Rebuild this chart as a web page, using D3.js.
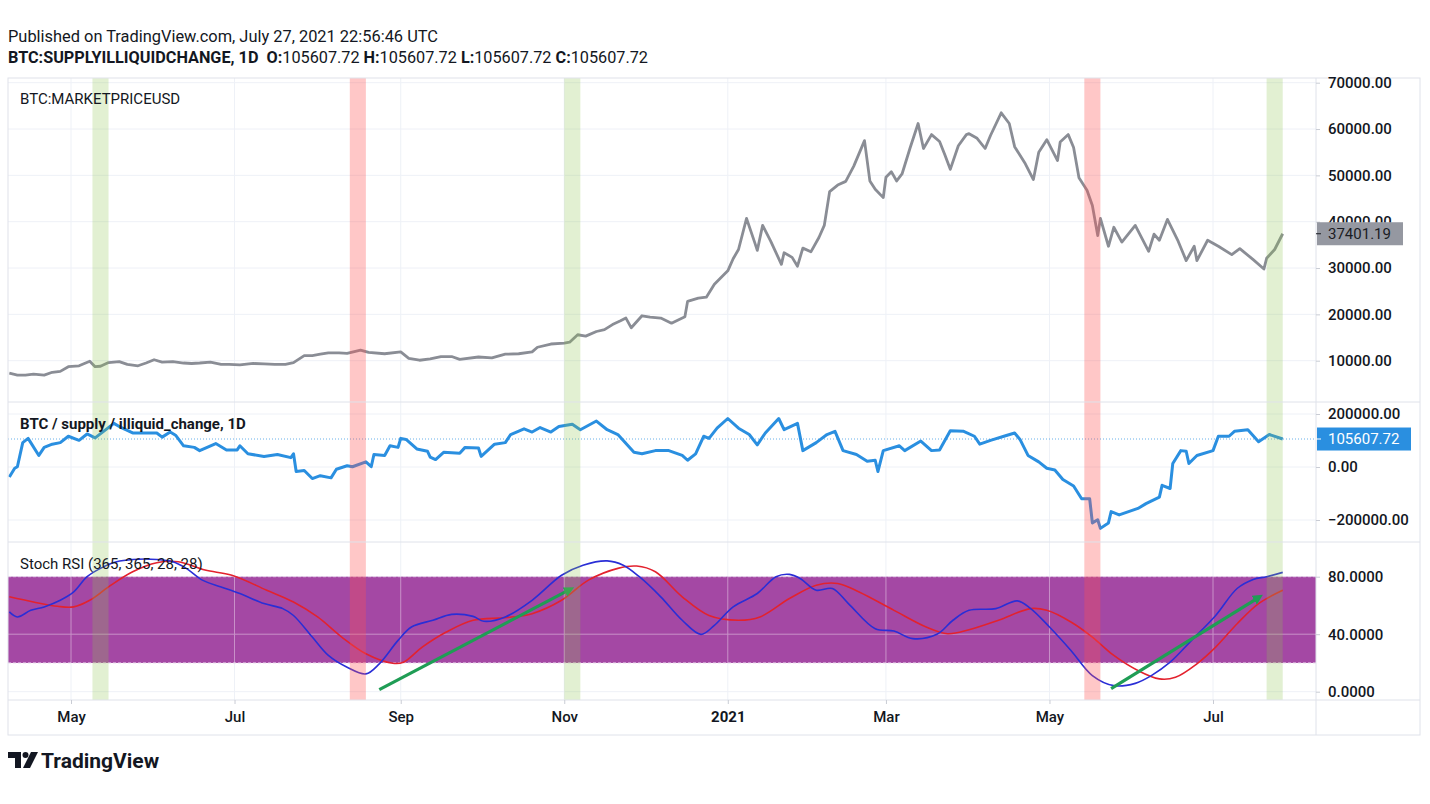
<!DOCTYPE html>
<html>
<head>
<meta charset="utf-8">
<script src="https://cdn.jsdelivr.net/npm/d3@7"></script>
<style>
body { margin: 0; background: #fff; }
text { font-family: Roboto, "Noto Sans", sans-serif; white-space: pre; }
</style>
</head>
<body>
<div id="display"></div>
<script>
// ---- data ----
const price = [
["2020-04-08",7300],["2020-04-11",6900],["2020-04-14",6900],["2020-04-17",7100],["2020-04-21",6900],["2020-04-24",7500],["2020-04-27",7700],["2020-04-30",8700],["2020-05-04",8900],["2020-05-08",9900],["2020-05-10",8700],["2020-05-12",8800],["2020-05-15",9600],["2020-05-19",9800],["2020-05-22",9200],["2020-05-26",8900],["2020-05-29",9500],["2020-06-01",10200],["2020-06-04",9700],["2020-06-08",9800],["2020-06-12",9500],["2020-06-15",9400],["2020-06-18",9500],["2020-06-22",9700],["2020-06-26",9200],["2020-06-29",9200],["2020-07-03",9100],["2020-07-08",9400],["2020-07-12",9300],["2020-07-16",9200],["2020-07-20",9200],["2020-07-23",9600],["2020-07-27",11100],["2020-07-30",11100],["2020-08-02",11400],["2020-08-05",11700],["2020-08-09",11700],["2020-08-12",11600],["2020-08-17",12300],["2020-08-20",11800],["2020-08-26",11500],["2020-09-01",11900],["2020-09-04",10500],["2020-09-08",10100],["2020-09-12",10400],["2020-09-16",10900],["2020-09-20",10900],["2020-09-23",10300],["2020-09-30",10800],["2020-10-05",10600],["2020-10-10",11400],["2020-10-15",11500],["2020-10-20",11900],["2020-10-22",12900],["2020-10-27",13600],["2020-11-01",13800],["2020-11-03",14000],["2020-11-06",15600],["2020-11-09",15300],["2020-11-13",16300],["2020-11-16",16700],["2020-11-19",17800],["2020-11-22",18600],["2020-11-24",19200],["2020-11-26",17100],["2020-11-30",19700],["2020-12-03",19400],["2020-12-07",19200],["2020-12-11",18100],["2020-12-16",19500],["2020-12-17",22800],["2020-12-21",23500],["2020-12-24",23700],["2020-12-27",26500],["2021-01-01",29400],["2021-01-03",32000],["2021-01-05",34000],["2021-01-08",40700],["2021-01-11",35600],["2021-01-12",33800],["2021-01-14",39200],["2021-01-17",35800],["2021-01-21",30800],["2021-01-22",33300],["2021-01-25",32300],["2021-01-27",30400],["2021-01-29",34300],["2021-02-01",33500],["2021-02-04",36600],["2021-02-06",39200],["2021-02-08",46500],["2021-02-11",47900],["2021-02-14",48700],["2021-02-17",52000],["2021-02-21",57500],["2021-02-23",48800],["2021-02-25",47000],["2021-02-28",45200],["2021-03-01",49600],["2021-03-03",50800],["2021-03-05",48800],["2021-03-07",50300],["2021-03-10",55900],["2021-03-13",61200],["2021-03-15",55800],["2021-03-18",58800],["2021-03-21",57300],["2021-03-23",54400],["2021-03-25",51300],["2021-03-28",56400],["2021-03-31",58800],["2021-04-01",59000],["2021-04-04",58000],["2021-04-07",55800],["2021-04-09",58600],["2021-04-13",63500],["2021-04-16",61200],["2021-04-18",56200],["2021-04-22",52500],["2021-04-25",49100],["2021-04-27",55000],["2021-04-30",57700],["2021-05-04",53200],["2021-05-05",57200],["2021-05-08",58800],["2021-05-10",56000],["2021-05-12",49500],["2021-05-15",46800],["2021-05-17",43500],["2021-05-19",37000],["2021-05-20",40700],["2021-05-23",34700],["2021-05-25",38800],["2021-05-28",35600],["2021-06-02",39200],["2021-06-07",33600],["2021-06-09",37300],["2021-06-11",36000],["2021-06-14",40500],["2021-06-18",35800],["2021-06-21",31600],["2021-06-24",34700],["2021-06-25",31600],["2021-06-29",36000],["2021-07-03",34700],["2021-07-08",32900],["2021-07-11",34200],["2021-07-16",31800],["2021-07-20",29800],["2021-07-21",32100],["2021-07-24",34000],["2021-07-27",37401.19]
];

const supply = [
["2020-04-08",-37500],["2020-04-10",-4800],["2020-04-11",1000],["2020-04-13",92000],["2020-04-15",108000],["2020-04-19",43600],["2020-04-21",74000],["2020-04-24",86000],["2020-04-27",92000],["2020-04-30",116000],["2020-05-04",100700],["2020-05-07",124700],["2020-05-10",110000],["2020-05-17",164700],["2020-05-19",152700],["2020-05-24",128400],["2020-06-02",128400],["2020-06-04",112700],["2020-06-07",132000],["2020-06-09",120000],["2020-06-12",80000],["2020-06-16",74000],["2020-06-18",61800],["2020-06-24",88400],["2020-06-28",64400],["2020-07-02",64400],["2020-07-03",80000],["2020-07-06",49800],["2020-07-12",40000],["2020-07-17",47300],["2020-07-22",35300],["2020-07-23",49800],["2020-07-24",-17000],["2020-07-27",-13400],["2020-07-30",-43600],["2020-08-02",-32700],["2020-08-06",-41000],["2020-08-08",-8400],["2020-08-12",4800],["2020-08-14",1000],["2020-08-19",19300],["2020-08-21",1000],["2020-08-22",47300],["2020-08-26",43600],["2020-08-28",80000],["2020-08-31",74000],["2020-09-01",108000],["2020-09-03",104000],["2020-09-07",68000],["2020-09-11",59300],["2020-09-12",37500],["2020-09-14",28000],["2020-09-17",55600],["2020-09-23",52000],["2020-09-25",74000],["2020-09-30",71600],["2020-10-01",40000],["2020-10-06",86000],["2020-10-10",92000],["2020-10-12",122500],["2020-10-17",144000],["2020-10-20",132000],["2020-10-23",149000],["2020-10-27",132000],["2020-10-30",152700],["2020-11-04",161000],["2020-11-07",140700],["2020-11-13",173400],["2020-11-17",140700],["2020-11-21",122500],["2020-11-27",55600],["2020-11-30",49800],["2020-12-05",61800],["2020-12-10",61800],["2020-12-15",43600],["2020-12-17",25500],["2020-12-20",49800],["2020-12-23",116000],["2020-12-25",108000],["2020-12-28",146500],["2021-01-01",183000],["2021-01-05",146500],["2021-01-09",122500],["2021-01-12",83600],["2021-01-15",128400],["2021-01-20",183000],["2021-01-22",140700],["2021-01-27",164700],["2021-01-29",61800],["2021-02-03",92000],["2021-02-07",122500],["2021-02-10",134500],["2021-02-13",61800],["2021-02-18",47300],["2021-02-22",21800],["2021-02-25",25500],["2021-02-26",-17000],["2021-02-28",61800],["2021-03-06",80000],["2021-03-08",61800],["2021-03-14",98000],["2021-03-18",61800],["2021-03-21",64400],["2021-03-25",137000],["2021-03-30",134500],["2021-04-03",116000],["2021-04-05",86000],["2021-04-09",100700],["2021-04-14",116000],["2021-04-18",128400],["2021-04-20",104000],["2021-04-23",43600],["2021-04-27",19300],["2021-04-30",-4800],["2021-05-03",-11000],["2021-05-06",-47300],["2021-05-10",-71600],["2021-05-13",-120000],["2021-05-16",-120000],["2021-05-17",-211000],["2021-05-19",-199000],["2021-05-20",-231600],["2021-05-23",-211000],["2021-05-24",-168400],["2021-05-27",-180700],["2021-06-03",-156400],["2021-06-06",-138200],["2021-06-11",-113800],["2021-06-12",-69100],["2021-06-15",-81100],["2021-06-16",13400],["2021-06-19",61800],["2021-06-21",59300],["2021-06-22",13400],["2021-06-25",43600],["2021-07-01",61800],["2021-07-03",116000],["2021-07-07",116000],["2021-07-09",134500],["2021-07-14",140700],["2021-07-18",95600],["2021-07-22",122500],["2021-07-27",105607.72]
];

// Stoch RSI %K (blue) and %D (red)
const stochK = [
["2020-04-08",55.5],["2020-04-11",52],["2020-04-16",56.6],["2020-04-21",59],["2020-04-27",63.6],["2020-05-02",69.4],["2020-05-07",80],["2020-05-12",85.8],["2020-05-18",90.4],["2020-05-24",92],["2020-06-02",92],["2020-06-08",90.4],["2020-06-13",85.8],["2020-06-19",77.6],["2020-06-26",72.9],["2020-07-03",68.3],["2020-07-12",61.3],["2020-07-19",57.8],["2020-07-23",53],["2020-07-30",38],["2020-08-05",25.2],["2020-08-12",17],["2020-08-19",12.4],["2020-08-24",19.4],["2020-08-31",35.7],["2020-09-05",45],["2020-09-13",49.7],["2020-09-20",53.8],["2020-09-28",52.4],["2020-10-02",49],["2020-10-10",52],["2020-10-20",63.6],["2020-10-31",81],["2020-11-08",88],["2020-11-17",91],["2020-11-23",88],["2020-11-29",80],["2020-12-07",66],["2020-12-15",49.7],["2020-12-22",39.9],["2020-12-27",46.2],["2021-01-03",59],["2021-01-12",68.3],["2021-01-19",80],["2021-01-24",81.6],["2021-01-28",78.8],["2021-02-03",70.6],["2021-02-09",71.8],["2021-02-15",61.3],["2021-02-25",43.8],["2021-03-04",42.2],["2021-03-11",36.9],["2021-03-20",39.9],["2021-03-26",49.7],["2021-04-01",56.6],["2021-04-11",57.8],["2021-04-19",63.2],["2021-04-24",57.8],["2021-05-01",45],["2021-05-09",28.7],["2021-05-17",11.2],["2021-05-25",4.2],["2021-06-02",5.8],["2021-06-08",11.2],["2021-06-15",20.5],["2021-06-23",35.7],["2021-07-02",53],["2021-07-10",71.8],["2021-07-16",78.1],["2021-07-21",80],["2021-07-27",83]
];
const stochD = [
["2020-04-08",66],["2020-04-17",62.4],["2020-04-26",59.4],["2020-05-02",59],["2020-05-08",63.6],["2020-05-15",72.9],["2020-05-24",83.4],["2020-06-02",89.7],["2020-06-10",90.4],["2020-06-20",84.6],["2020-06-30",81],["2020-07-13",70.6],["2020-07-23",62.4],["2020-08-01",52],["2020-08-10",38],["2020-08-19",26.4],["2020-08-29",19.8],["2020-09-02",20.5],["2020-09-09",31],["2020-09-18",41.5],["2020-09-28",49.7],["2020-10-10",51.5],["2020-10-20",54.3],["2020-10-31",63.6],["2020-11-10",77.6],["2020-11-21",85.8],["2020-11-28",87.4],["2020-12-05",83.4],["2020-12-15",66],["2020-12-25",53],["2021-01-05",49.7],["2021-01-13",52],["2021-01-24",64.8],["2021-02-03",74.1],["2021-02-11",75.3],["2021-02-19",69.4],["2021-03-04",56.6],["2021-03-16",45],["2021-03-24",40.3],["2021-04-01",43.1],["2021-04-12",49.7],["2021-04-24",57.8],["2021-04-30",56.6],["2021-05-09",48.5],["2021-05-17",38],["2021-05-25",25.2],["2021-06-03",14.7],["2021-06-11",8.9],["2021-06-17",10],["2021-06-25",19.4],["2021-07-02",31],["2021-07-10",47.3],["2021-07-18",61.3],["2021-07-27",70.6]
];

// highlighted periods
const bandStarts = ["2020-05-09", "2020-08-13", "2020-11-01", "2021-05-14", "2021-07-21"];
const bandEnds   = ["2020-05-15", "2020-08-19", "2020-11-07", "2021-05-20", "2021-07-27"];
const bandKinds  = ["green", "red", "green", "red", "green"];

// hand drawn trend arrows on the Stoch RSI pane: [date, value]
const arrowStarts = [["2020-08-24", 1.4], ["2021-05-24", 2.1]];
const arrowEnds   = [["2020-11-03", 71], ["2021-07-18", 65.5]];

// ticks
const xTickDates  = ["2020-05-01", "2020-07-01", "2020-09-01", "2020-11-01", "2021-01-01", "2021-03-01", "2021-05-01", "2021-07-01"];
const xTickLabels = ["May", "Jul", "Sep", "Nov", "2021", "Mar", "May", "Jul"];
const priceTicks  = [10000, 20000, 30000, 40000, 50000, 60000, 70000];
const supplyTicks = [-200000, 0, 200000];
const stochTicks  = [0, 40, 80];
const lastPrice = 37401.19;
const lastSupply = 105607.72;

// ---- layout ----
const W = 1430, H = 804;
const L = 8, R = 1316, FR = 1420;
const P1 = [78, 402], P2 = [402, 542], P3 = [542, 700], XA = [700, 735];

const parse = d3.utcParse("%Y-%m-%d");

const svg = d3.select('#display')
  .append('svg')
  .attr('width', W)
  .attr('height', H);

const x = d3.scaleUtc()
  .domain([parse("2020-05-01"), parse("2021-07-01")])
  .range([71, 1213]);

const yPrice = d3.scaleLinear().domain([10000, 70000]).range([360.7, 82.7]);
const ySupply = d3.scaleLinear().domain([-200000, 200000]).range([520, 414]);
const yStoch = d3.scaleLinear().domain([0, 80]).range([691.7, 576.7]);

const gridColor = '#eef1f7';

// clip paths for panes
const defs = svg.append('defs');
[['c1', P1], ['c2', P2], ['c3', P3]].forEach(function (c) {
  defs.append('clipPath').attr('id', c[0])
    .append('rect')
    .attr('x', L).attr('y', c[1][0])
    .attr('width', R - L).attr('height', c[1][1] - c[1][0]);
});
defs.append('marker')
  .attr('id', 'arrowhead')
  .attr('viewBox', '0 0 10 10')
  .attr('refX', 5).attr('refY', 5)
  .attr('markerWidth', 3.2).attr('markerHeight', 3.2)
  .attr('orient', 'auto')
  .append('path')
  .attr('d', 'M0,0 L10,5 L0,10 z')
  .attr('fill', '#1f9d55');

// ---- grid ----
const grid = svg.append('g');
xTickDates.forEach(function (d) {
  grid.append('line')
    .attr('x1', x(parse(d))).attr('x2', x(parse(d)))
    .attr('y1', P1[0]).attr('y2', P3[1])
    .attr('stroke', gridColor);
});
function hgrid(scale, ticks) {
  ticks.forEach(function (t) {
    grid.append('line')
      .attr('x1', L).attr('x2', R)
      .attr('y1', scale(t)).attr('y2', scale(t))
      .attr('stroke', gridColor);
  });
}
hgrid(yPrice, priceTicks);
hgrid(ySupply, supplyTicks);
hgrid(yStoch, stochTicks);

// ---- stoch band (20-80) ----
svg.append('rect')
  .attr('x', L).attr('y', yStoch(80))
  .attr('width', R - L).attr('height', yStoch(20) - yStoch(80))
  .attr('fill', '#a448a4');
[80, 20].forEach(function (v) {
  svg.append('line')
    .attr('x1', L).attr('x2', R)
    .attr('y1', yStoch(v)).attr('y2', yStoch(v))
    .attr('stroke', '#e7d3ea')
    .attr('stroke-dasharray', '3,2');
});
// grid shows through the band
const bandGrid = svg.append('g').attr('opacity', 0.4);
xTickDates.forEach(function (d) {
  bandGrid.append('line')
    .attr('x1', x(parse(d))).attr('x2', x(parse(d)))
    .attr('y1', yStoch(80)).attr('y2', yStoch(20))
    .attr('stroke', '#ffffff');
});
bandGrid.append('line')
  .attr('x1', L).attr('x2', R)
  .attr('y1', yStoch(40)).attr('y2', yStoch(40))
  .attr('stroke', '#ffffff');

// last value dotted line in pane 2
svg.append('line')
  .attr('x1', L).attr('x2', R)
  .attr('y1', ySupply(lastSupply)).attr('y2', ySupply(lastSupply))
  .attr('stroke', '#2a8fe0')
  .attr('stroke-opacity', 0.7)
  .attr('stroke-dasharray', '1,2');

// ---- series ----
function drawLine(data, yScale, clip, color, width, curve) {
  const line = d3.line()
    .x(d => x(parse(d[0])))
    .y(d => yScale(d[1]))
    .curve(curve || d3.curveLinear);
  svg.append('path')
    .datum(data)
    .attr('clip-path', `url(#${clip})`)
    .attr('d', line)
    .attr('fill', 'none')
    .attr('stroke', color)
    .attr('stroke-width', width)
    .attr('stroke-linejoin', 'round');
}
drawLine(price, yPrice, 'c1', '#8a8d95', 2.8);
drawLine(supply, ySupply, 'c2', '#2a8fe0', 3);
drawLine(stochD, yStoch, 'c3', '#e3222e', 1.6, d3.curveCatmullRom.alpha(0.5));
drawLine(stochK, yStoch, 'c3', '#2a2ed6', 1.6, d3.curveCatmullRom.alpha(0.5));

// trend arrows
for (let i = 0; i < arrowStarts.length; i++) {
  svg.append('line')
    .attr('x1', x(parse(arrowStarts[i][0]))).attr('y1', yStoch(arrowStarts[i][1]))
    .attr('x2', x(parse(arrowEnds[i][0]))).attr('y2', yStoch(arrowEnds[i][1]))
    .attr('stroke', '#1f9d55')
    .attr('stroke-width', 3.2)
    .attr('marker-end', 'url(#arrowhead)');
}

// ---- highlighted periods (drawn over everything in the plot) ----
const bandFill = { green: 'rgba(139,195,74,0.25)', red: 'rgba(255,82,82,0.32)' };
for (let i = 0; i < bandStarts.length; i++) {
  const x0 = x(parse(bandStarts[i])), x1 = x(parse(bandEnds[i]));
  svg.append('rect')
    .attr('x', x0).attr('y', P1[0])
    .attr('width', x1 - x0).attr('height', P3[1] - P1[0])
    .attr('fill', bandFill[bandKinds[i]]);
}

// ---- frame and separators ----
const frameColor = '#dfe2ea';
svg.append('rect')
  .attr('x', L).attr('y', P1[0])
  .attr('width', FR - L).attr('height', XA[1] - P1[0])
  .attr('fill', 'none')
  .attr('stroke', frameColor);
[P1[1], P2[1], P3[1]].forEach(function (yy) {
  svg.append('line')
    .attr('x1', L).attr('x2', FR)
    .attr('y1', yy).attr('y2', yy)
    .attr('stroke', frameColor);
});
svg.append('line')
  .attr('x1', R).attr('x2', R)
  .attr('y1', P1[0]).attr('y2', XA[1])
  .attr('stroke', frameColor);

// ---- axes ----
function rightAxis(scale, ticks, fmt) {
  const g = svg.append('g')
    .attr('transform', `translate(${R},0)`)
    .call(d3.axisRight(scale).tickValues(ticks).tickFormat(fmt).tickSize(4).tickPadding(8));
  g.select('.domain').remove();
  g.selectAll('line').attr('stroke', '#c9ccd4');
  g.selectAll('text')
    .attr('font-size', '15px')
    .attr('font-weight', 500)
    .attr('fill', '#131722');
  return g;
}
const pa = rightAxis(yPrice, priceTicks, d3.format('.2f'));
// the 40000 label sits partly behind the last-price tag: only its top shows above the tag
const tagTop = yPrice(lastPrice) - 11.5;
defs.append('clipPath').attr('id', 'tagclip')
  .append('rect').attr('x', 0).attr('y', -20)
  .attr('width', 120).attr('height', 20 + tagTop - yPrice(40000));
pa.selectAll('.tick').filter(d => d === 40000).select('text').attr('clip-path', 'url(#tagclip)');
rightAxis(ySupply, supplyTicks, d => d3.format('.2f')(d).replace('-', '\u2212'));
rightAxis(yStoch, stochTicks, d3.format('.4f'));

const xa = svg.append('g')
  .attr('transform', `translate(0,${XA[0]})`)
  .call(d3.axisBottom(x).tickValues(xTickDates.map(parse))
    .tickFormat((d, i) => xTickLabels[i]).tickSize(4).tickPadding(7));
xa.select('.domain').remove();
xa.selectAll('line').attr('stroke', '#c9ccd4');
xa.selectAll('text')
  .attr('font-size', '15px')
  .attr('font-weight', (d, i) => xTickLabels[i] === '2021' ? 700 : 500)
  .attr('fill', '#131722');

// last value tags
function valueTag(yy, label, fill, textColor, width) {
  svg.append('rect')
    .attr('x', R + 1).attr('y', yy - 11.5)
    .attr('width', width).attr('height', 23)
    .attr('fill', fill);
  svg.append('line')
    .attr('x1', R).attr('x2', R + 5)
    .attr('y1', yy).attr('y2', yy)
    .attr('stroke', textColor);
  svg.append('text')
    .attr('x', R + 12).attr('y', yy)
    .attr('dy', '0.35em')
    .attr('font-size', '15px')
    .attr('fill', textColor)
    .text(label);
}
valueTag(yPrice(lastPrice), d3.format('.2f')(lastPrice), '#9598a1', '#1b1d24', 86);
valueTag(ySupply(lastSupply), d3.format('.2f')(lastSupply), '#2a8fe0', '#ffffff', 94);

// ---- pane titles ----
function paneTitle(yy, label, weight) {
  svg.append('text')
    .attr('x', 20).attr('y', yy)
    .attr('dy', '0.35em')
    .attr('font-size', '15px')
    .attr('font-weight', weight)
    .attr('fill', '#131722')
    .text(label);
}
paneTitle(99, 'BTC:MARKETPRICEUSD', 400);
paneTitle(424, 'BTC / supply / illiquid_change, 1D', 700);
paneTitle(564, 'Stoch RSI (365, 365, 28, 28)', 400);

// ---- header ----
svg.append('text')
  .attr('x', L).attr('y', 42)
  .attr('font-size', '16px')
  .attr('fill', '#131722')
  .attr('textLength', 430)
  .attr('lengthAdjust', 'spacingAndGlyphs')
  .text('Published on TradingView.com, July 27, 2021 22:56:46 UTC');

const h2 = svg.append('text')
  .attr('x', L).attr('y', 63)
  .attr('font-size', '16px')
  .attr('fill', '#131722')
  .attr('textLength', 640)
  .attr('lengthAdjust', 'spacingAndGlyphs');
h2.append('tspan').attr('font-weight', 700).text('BTC:SUPPLYILLIQUIDCHANGE, 1D ');
['O', 'H', 'L', 'C'].forEach(function (k) {
  h2.append('tspan').attr('font-weight', 700).text(' ' + k + ':');
  h2.append('tspan').text(d3.format('.2f')(lastSupply));
});

// ---- logo ----
const logo = svg.append('g').attr('transform', 'translate(8,752)').attr('fill', '#131722');
logo.append('path').attr('d', 'M0,0 H13 V16 H7 V6 H0 Z');
logo.append('circle').attr('cx', 17.5).attr('cy', 3).attr('r', 3);
logo.append('path').attr('d', 'M23,0 H30 L22,16 H15 Z');
svg.append('text')
  .attr('x', 41).attr('y', 768)
  .attr('font-size', '21px')
  .attr('font-weight', 700)
  .attr('fill', '#131722')
  .text('TradingView');
</script>
</body>
</html>
